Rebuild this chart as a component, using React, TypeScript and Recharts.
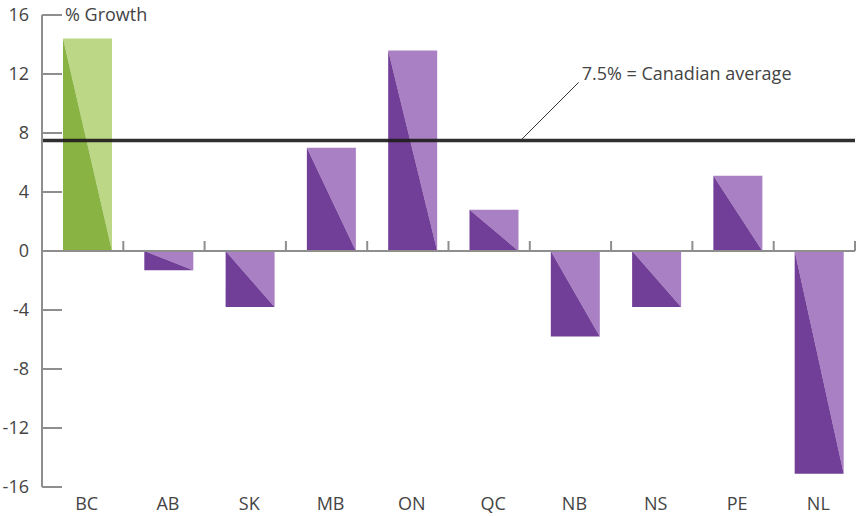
import { BarChart, Bar, XAxis, YAxis, ReferenceLine } from "recharts";

const provinces = ["BC", "AB", "SK", "MB", "ON", "QC", "NB", "NS", "PE", "NL"];
const growth = [14.4, -1.3, -3.8, 7.0, 13.6, 2.8, -5.8, -3.8, 5.1, -15.1];
const highlighted = ["BC"];
const yTicks = [-16, -12, -8, -4, 0, 4, 8, 12, 16];
const canadianAverage = 7.5;
const averageLabel = "7.5% = Canadian average";
const axisTitle = "% Growth";

const data = provinces.map((name, i) => ({ name, value: growth[i] }));

const PURPLE = { dark: "#713f97", light: "#aa80c4" };
const GREEN = { dark: "#89b343", light: "#bcd886" };
const FONT = "'Open Sans', sans-serif";
const TEXT = "#444";
const GRAY = "#8e8e8e";

const SplitBar = (props: any) => {
  const { x, y, width, height, payload } = props;
  const top = Math.min(y, y + height);
  const h = Math.abs(height);
  const left = x + 5;
  const c = highlighted.includes(payload.name) ? GREEN : PURPLE;
  return (
    <g>
      <polygon
        points={`${left},${top} ${left + width},${top} ${left + width},${top + h}`}
        fill={c.light}
      />
      <polygon
        points={`${left},${top} ${left},${top + h} ${left + width},${top + h}`}
        fill={c.dark}
      />
    </g>
  );
};

// zero line with small upward ticks at each category boundary
const ZeroAxis = (props: any) => {
  const { x1, y1, x2 } = props;
  const step = (x2 - x1) / provinces.length;
  return (
    <g>
      <line x1={x1} y1={y1} x2={x2} y2={y1} stroke={GRAY} strokeWidth={2} />
      {provinces.map((p, i) => (
        <line
          key={p}
          x1={x1 + step * (i + 1)}
          y1={y1}
          x2={x1 + step * (i + 1)}
          y2={y1 - 10}
          stroke={GRAY}
          strokeWidth={2}
        />
      ))}
    </g>
  );
};

// average line with its leader and note
const AverageLine = (props: any) => {
  const { x1, y1, x2 } = props;
  const sx = x1 + (x2 - x1) * 0.59;
  return (
    <g>
      <line x1={x1} y1={y1} x2={x2} y2={y1} stroke="#1f1c1d" strokeWidth={3.5} strokeOpacity={0.92} />
      <line x1={sx} y1={y1 - 1} x2={sx + 57} y2={y1 - 58} stroke="#333" strokeWidth={1} />
      <text x={sx + 60} y={y1 - 67} dy="0.35em" fill={TEXT} fontSize={18} fontFamily={FONT}>
        {averageLabel}
      </text>
    </g>
  );
};

const YTick = (props: any) => {
  const { x, y, payload } = props;
  return (
    <g>
      <line x1={x} y1={y} x2={x + 20} y2={y} stroke={GRAY} strokeWidth={2} />
      <text x={x - 13} y={y} dy="0.35em" textAnchor="end" fill={TEXT} fontSize={18} fontFamily={FONT}>
        {payload.value}
      </text>
      {payload.value === 16 && (
        <text x={x + 23} y={y} dy="0.35em" fill={TEXT} fontSize={18} fontFamily={FONT}>
          {axisTitle}
        </text>
      )}
    </g>
  );
};

const XTick = (props: any) => {
  const { x, payload } = props;
  return (
    <text x={x + 4} y={510} textAnchor="middle" fill={TEXT} fontSize={18} fontFamily={FONT}>
      {payload.value}
    </text>
  );
};

export default function App() {
  return (
    <div style={{ position: "absolute", left: 0, top: 0, background: "#fff" }}>
      <BarChart
        width={857}
        height={516}
        data={data}
        margin={{ top: 15, right: 2, bottom: 0, left: 0 }}
      >
        <XAxis
          dataKey="name"
          height={29}
          axisLine={false}
          tickLine={false}
          tick={<XTick />}
          interval={0}
        />
        <YAxis
          width={42}
          domain={[-16, 16]}
          ticks={yTicks}
          interval={0}
          tickLine={false}
          tickSize={0}
          tickMargin={0}
          axisLine={{ stroke: GRAY, strokeWidth: 2 }}
          tick={<YTick />}
        />
        <Bar dataKey="value" barSize={49} shape={<SplitBar />} isAnimationActive={false} />
        <ReferenceLine y={0} shape={(p: any) => <ZeroAxis {...p} />} />
        <ReferenceLine y={canadianAverage} shape={(p: any) => <AverageLine {...p} />} />
      </BarChart>
    </div>
  );
}
